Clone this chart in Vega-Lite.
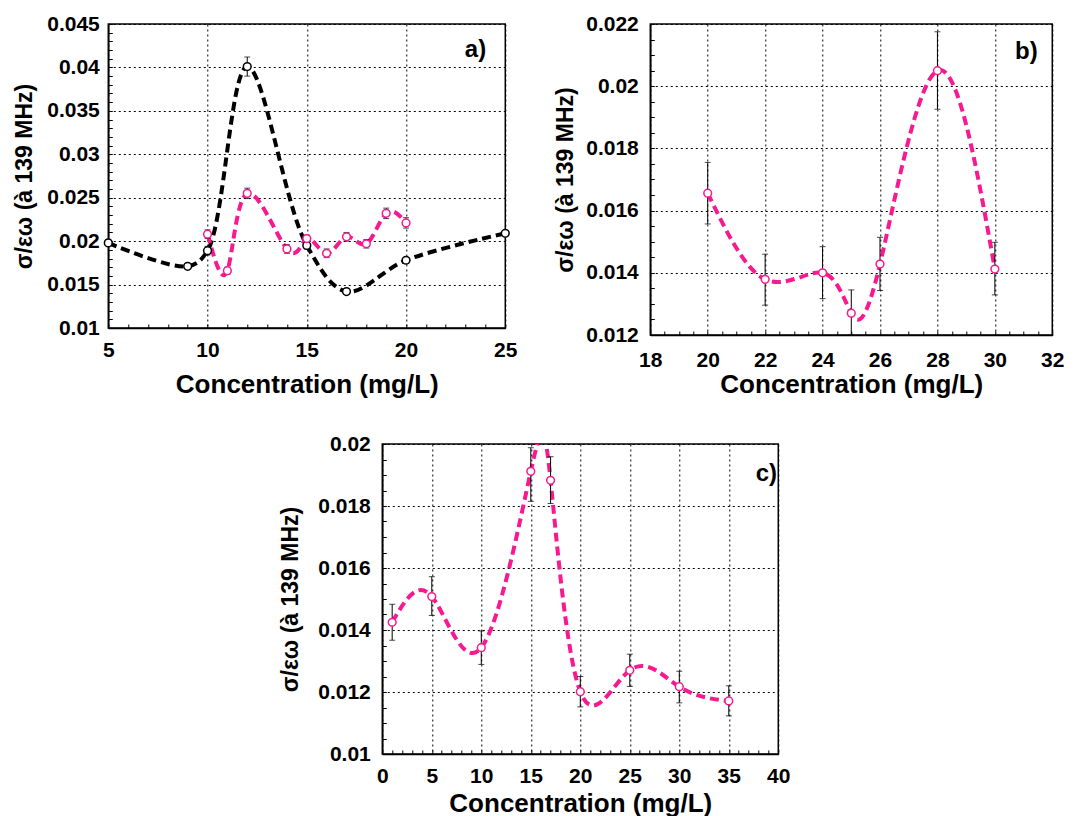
{
  "$schema": "https://vega.github.io/schema/vega-lite/v6.json",
  "padding": {"left": 12, "top": 12, "right": 5, "bottom": 0},
  "datasets": {
    "a": [
      {"s": "k", "conc": 5, "y": 0.0198, "lo": 0.0195, "hi": 0.0201},
      {"s": "k", "conc": 9, "y": 0.0171, "lo": 0.0168, "hi": 0.0174},
      {"s": "k", "conc": 10, "y": 0.0189, "lo": 0.0184, "hi": 0.0194},
      {"s": "k", "conc": 12, "y": 0.0401, "lo": 0.0390, "hi": 0.0412},
      {"s": "k", "conc": 15, "y": 0.0195, "lo": 0.0191, "hi": 0.0199},
      {"s": "k", "conc": 17, "y": 0.0142, "lo": 0.0140, "hi": 0.0144},
      {"s": "k", "conc": 20, "y": 0.0178, "lo": 0.0175, "hi": 0.0181},
      {"s": "k", "conc": 25, "y": 0.0209, "lo": 0.0206, "hi": 0.0212},
      {"s": "p", "conc": 10, "y": 0.0208, "lo": 0.0203, "hi": 0.0213},
      {"s": "p", "conc": 11, "y": 0.0166, "lo": 0.0162, "hi": 0.0170},
      {"s": "p", "conc": 12, "y": 0.0255, "lo": 0.0249, "hi": 0.0261},
      {"s": "p", "conc": 14, "y": 0.0191, "lo": 0.0186, "hi": 0.0196},
      {"s": "p", "conc": 15, "y": 0.0203, "lo": 0.0199, "hi": 0.0207},
      {"s": "p", "conc": 16, "y": 0.0186, "lo": 0.0181, "hi": 0.0191},
      {"s": "p", "conc": 17, "y": 0.0205, "lo": 0.0200, "hi": 0.0210},
      {"s": "p", "conc": 18, "y": 0.0197, "lo": 0.0192, "hi": 0.0202},
      {"s": "p", "conc": 19, "y": 0.0232, "lo": 0.0226, "hi": 0.0238},
      {"s": "p", "conc": 20, "y": 0.0221, "lo": 0.0215, "hi": 0.0227}
    ],
    "b": [
      {"s": "p", "conc": 20, "y": 0.01656, "lo": 0.01557, "hi": 0.01755},
      {"s": "p", "conc": 22, "y": 0.01379, "lo": 0.01296, "hi": 0.01460},
      {"s": "p", "conc": 24, "y": 0.01400, "lo": 0.01317, "hi": 0.01484},
      {"s": "p", "conc": 25, "y": 0.01270, "lo": 0.01200, "hi": 0.01345},
      {"s": "p", "conc": 26, "y": 0.01428, "lo": 0.01343, "hi": 0.01514},
      {"s": "p", "conc": 28, "y": 0.02050, "lo": 0.01926, "hi": 0.02175},
      {"s": "p", "conc": 30, "y": 0.01412, "lo": 0.01329, "hi": 0.01498}
    ],
    "c": [
      {"s": "p", "conc": 1, "y": 0.01425, "lo": 0.01367, "hi": 0.01483},
      {"s": "p", "conc": 5, "y": 0.01508, "lo": 0.01447, "hi": 0.01572},
      {"s": "p", "conc": 10, "y": 0.01343, "lo": 0.01289, "hi": 0.01397},
      {"s": "p", "conc": 15, "y": 0.01912, "lo": 0.01815, "hi": 0.01988},
      {"s": "p", "conc": 17, "y": 0.01883, "lo": 0.01808, "hi": 0.01959},
      {"s": "p", "conc": 20, "y": 0.01201, "lo": 0.01152, "hi": 0.01250},
      {"s": "p", "conc": 25, "y": 0.01270, "lo": 0.01218, "hi": 0.01322},
      {"s": "p", "conc": 30, "y": 0.01217, "lo": 0.01165, "hi": 0.01267},
      {"s": "p", "conc": 35, "y": 0.01171, "lo": 0.01123, "hi": 0.01220}
    ]
  },
  "vconcat": [
    {
      "hconcat": [
        {
          "width": 397,
          "height": 304,
          "layer": [
            {
              "data": {"name": "a"},
              "transform": [{"filter": "datum.s === 'k'"}],
              "mark": {"type": "line", "interpolate": "catmull-rom", "strokeWidth": 4, "strokeDash": [9, 5], "clip": true},
              "encoding": {
                "x": {"field": "conc", "type": "quantitative", "scale": {"domain": [5, 25], "nice": false, "zero": false},
                  "axis": {"values": [5,6,7,8,9,10,11,12,13,14,15,16,17,18,19,20,21,22,23,24,25], "format": "~g", "labelExpr": "datum.value % 5 === 0 ? datum.label : ''", "gridOpacity": {"condition": {"test": "datum.value % 5 === 0", "value": 1}, "value": 0}, "title": "Concentration (mg/L)", "labelPadding": 15, "titlePadding": 11, "labelOverlap": false, "labelFlush": false}},
                "y": {"field": "y", "type": "quantitative", "scale": {"domain": [0.01, 0.045], "nice": false, "zero": false},
                  "axis": {"values": [0.010,0.011,0.012,0.013,0.014,0.015,0.016,0.017,0.018,0.019,0.020,0.021,0.022,0.023,0.024,0.025,0.026,0.027,0.028,0.029,0.030,0.031,0.032,0.033,0.034,0.035,0.036,0.037,0.038,0.039,0.040,0.041,0.042,0.043,0.044,0.045], "format": "~g", "labelExpr": "abs(datum.value*200-round(datum.value*200))<1e-6 ? datum.label : ''", "gridOpacity": {"condition": {"test": "abs(datum.value*200-round(datum.value*200))<1e-6", "value": 1}, "value": 0}, "title": "σ/εω (à 139 MHz)", "labelPadding": 13, "titlePadding": 10, "labelOverlap": false, "labelFlush": false}},
                "color": {"field": "s", "type": "nominal", "scale": {"domain": ["k", "p"], "range": ["#000000", "#f7198f"]}, "legend": null}
              }
            },
            {
              "data": {"name": "a"},
              "transform": [{"filter": "datum.s === 'p'"}],
              "mark": {"type": "line", "interpolate": "natural", "strokeWidth": 4, "strokeDash": [9, 5], "clip": true},
              "encoding": {
                "x": {"field": "conc", "type": "quantitative", "scale": {"domain": [5, 25], "nice": false, "zero": false},
                  "axis": {"values": [5,6,7,8,9,10,11,12,13,14,15,16,17,18,19,20,21,22,23,24,25], "format": "~g", "labelExpr": "datum.value % 5 === 0 ? datum.label : ''", "gridOpacity": {"condition": {"test": "datum.value % 5 === 0", "value": 1}, "value": 0}, "title": "Concentration (mg/L)", "labelPadding": 15, "titlePadding": 11, "labelOverlap": false, "labelFlush": false}},
                "y": {"field": "y", "type": "quantitative", "scale": {"domain": [0.01, 0.045], "nice": false, "zero": false},
                  "axis": {"values": [0.010,0.011,0.012,0.013,0.014,0.015,0.016,0.017,0.018,0.019,0.020,0.021,0.022,0.023,0.024,0.025,0.026,0.027,0.028,0.029,0.030,0.031,0.032,0.033,0.034,0.035,0.036,0.037,0.038,0.039,0.040,0.041,0.042,0.043,0.044,0.045], "format": "~g", "labelExpr": "abs(datum.value*200-round(datum.value*200))<1e-6 ? datum.label : ''", "gridOpacity": {"condition": {"test": "abs(datum.value*200-round(datum.value*200))<1e-6", "value": 1}, "value": 0}, "title": "σ/εω (à 139 MHz)", "labelPadding": 13, "titlePadding": 10, "labelOverlap": false, "labelFlush": false}},
                "color": {"field": "s", "type": "nominal", "scale": {"domain": ["k", "p"], "range": ["#000000", "#f7198f"]}, "legend": null}
              }
            },
            {
              "data": {"name": "a"},
              "mark": {"type": "errorbar", "ticks": {"size": 6}, "color": "black", "thickness": 1},
              "encoding": {
                "x": {"field": "conc", "type": "quantitative", "scale": {"domain": [5, 25], "nice": false, "zero": false},
                  "axis": {"values": [5,6,7,8,9,10,11,12,13,14,15,16,17,18,19,20,21,22,23,24,25], "format": "~g", "labelExpr": "datum.value % 5 === 0 ? datum.label : ''", "gridOpacity": {"condition": {"test": "datum.value % 5 === 0", "value": 1}, "value": 0}, "title": "Concentration (mg/L)", "labelPadding": 15, "titlePadding": 11, "labelOverlap": false, "labelFlush": false}},
                "y": {"field": "lo", "type": "quantitative", "scale": {"domain": [0.01, 0.045], "nice": false, "zero": false},
                  "axis": {"values": [0.010,0.011,0.012,0.013,0.014,0.015,0.016,0.017,0.018,0.019,0.020,0.021,0.022,0.023,0.024,0.025,0.026,0.027,0.028,0.029,0.030,0.031,0.032,0.033,0.034,0.035,0.036,0.037,0.038,0.039,0.040,0.041,0.042,0.043,0.044,0.045], "format": "~g", "labelExpr": "abs(datum.value*200-round(datum.value*200))<1e-6 ? datum.label : ''", "gridOpacity": {"condition": {"test": "abs(datum.value*200-round(datum.value*200))<1e-6", "value": 1}, "value": 0}, "title": "σ/εω (à 139 MHz)", "labelPadding": 13, "titlePadding": 10, "labelOverlap": false, "labelFlush": false}},
                "y2": {"field": "hi"}
              }
            },
            {
              "data": {"name": "a"},
              "mark": {"type": "point", "shape": "circle", "filled": false, "fill": "white", "fillOpacity": 1, "opacity": 1, "size": 60, "strokeWidth": 1.5},
              "encoding": {
                "x": {"field": "conc", "type": "quantitative", "scale": {"domain": [5, 25], "nice": false, "zero": false},
                  "axis": {"values": [5,6,7,8,9,10,11,12,13,14,15,16,17,18,19,20,21,22,23,24,25], "format": "~g", "labelExpr": "datum.value % 5 === 0 ? datum.label : ''", "gridOpacity": {"condition": {"test": "datum.value % 5 === 0", "value": 1}, "value": 0}, "title": "Concentration (mg/L)", "labelPadding": 15, "titlePadding": 11, "labelOverlap": false, "labelFlush": false}},
                "y": {"field": "y", "type": "quantitative", "scale": {"domain": [0.01, 0.045], "nice": false, "zero": false},
                  "axis": {"values": [0.010,0.011,0.012,0.013,0.014,0.015,0.016,0.017,0.018,0.019,0.020,0.021,0.022,0.023,0.024,0.025,0.026,0.027,0.028,0.029,0.030,0.031,0.032,0.033,0.034,0.035,0.036,0.037,0.038,0.039,0.040,0.041,0.042,0.043,0.044,0.045], "format": "~g", "labelExpr": "abs(datum.value*200-round(datum.value*200))<1e-6 ? datum.label : ''", "gridOpacity": {"condition": {"test": "abs(datum.value*200-round(datum.value*200))<1e-6", "value": 1}, "value": 0}, "title": "σ/εω (à 139 MHz)", "labelPadding": 13, "titlePadding": 10, "labelOverlap": false, "labelFlush": false}},
                "stroke": {"field": "s", "type": "nominal", "scale": {"domain": ["k", "p"], "range": ["#000000", "#f7198f"]}, "legend": null}
              }
            },
            {
              "data": {"values": [{"t": "a)"}]},
              "mark": {"type": "text", "fontSize": 24, "fontWeight": "bold", "align": "center", "baseline": "middle"},
              "encoding": {
                "text": {"field": "t"},
                "x": {"datum": 23.5, "type": "quantitative", "scale": {"domain": [5, 25], "nice": false, "zero": false},
                  "axis": {"values": [5,6,7,8,9,10,11,12,13,14,15,16,17,18,19,20,21,22,23,24,25], "format": "~g", "labelExpr": "datum.value % 5 === 0 ? datum.label : ''", "gridOpacity": {"condition": {"test": "datum.value % 5 === 0", "value": 1}, "value": 0}, "title": "Concentration (mg/L)", "labelPadding": 15, "titlePadding": 11, "labelOverlap": false, "labelFlush": false}},
                "y": {"datum": 0.042, "type": "quantitative", "scale": {"domain": [0.01, 0.045], "nice": false, "zero": false},
                  "axis": {"values": [0.010,0.011,0.012,0.013,0.014,0.015,0.016,0.017,0.018,0.019,0.020,0.021,0.022,0.023,0.024,0.025,0.026,0.027,0.028,0.029,0.030,0.031,0.032,0.033,0.034,0.035,0.036,0.037,0.038,0.039,0.040,0.041,0.042,0.043,0.044,0.045], "format": "~g", "labelExpr": "abs(datum.value*200-round(datum.value*200))<1e-6 ? datum.label : ''", "gridOpacity": {"condition": {"test": "abs(datum.value*200-round(datum.value*200))<1e-6", "value": 1}, "value": 0}, "title": "σ/εω (à 139 MHz)", "labelPadding": 13, "titlePadding": 10, "labelOverlap": false, "labelFlush": false}}
              }
            }
          ]
        },
        {
          "width": 402,
          "height": 311,
          "layer": [
            {
              "data": {"name": "b"},
              "mark": {"type": "line", "interpolate": "natural", "strokeWidth": 4, "strokeDash": [9, 5], "clip": true},
              "encoding": {
                "x": {"field": "conc", "type": "quantitative", "scale": {"domain": [18, 32], "nice": false, "zero": false},
                  "axis": {"values": [18,18.5,19,19.5,20,20.5,21,21.5,22,22.5,23,23.5,24,24.5,25,25.5,26,26.5,27,27.5,28,28.5,29,29.5,30,30.5,31,31.5,32], "format": "~g", "labelExpr": "datum.value % 2 === 0 ? datum.label : ''", "gridOpacity": {"condition": {"test": "datum.value % 2 === 0", "value": 1}, "value": 0}, "title": "Concentration (mg/L)", "labelPadding": 18, "titlePadding": 1, "labelOverlap": false, "labelFlush": false}},
                "y": {"field": "y", "type": "quantitative", "scale": {"domain": [0.012, 0.022], "nice": false, "zero": false},
                  "axis": {"values": [0.012,0.0125,0.013,0.0135,0.014,0.0145,0.015,0.0155,0.016,0.0165,0.017,0.0175,0.018,0.0185,0.019,0.0195,0.020,0.0205,0.021,0.0215,0.022], "format": "~g", "labelExpr": "abs(datum.value*500-round(datum.value*500))<1e-6 ? datum.label : ''", "gridOpacity": {"condition": {"test": "abs(datum.value*500-round(datum.value*500))<1e-6", "value": 1}, "value": 0}, "title": "σ/εω (à 139 MHz)", "labelPadding": 16, "titlePadding": 8, "labelOverlap": false, "labelFlush": false}},
                "color": {"field": "s", "type": "nominal", "scale": {"domain": ["k", "p"], "range": ["#000000", "#f7198f"]}, "legend": null}
              }
            },
            {
              "data": {"name": "b"},
              "mark": {"type": "errorbar", "ticks": {"size": 6}, "color": "black", "thickness": 1},
              "encoding": {
                "x": {"field": "conc", "type": "quantitative", "scale": {"domain": [18, 32], "nice": false, "zero": false},
                  "axis": {"values": [18,18.5,19,19.5,20,20.5,21,21.5,22,22.5,23,23.5,24,24.5,25,25.5,26,26.5,27,27.5,28,28.5,29,29.5,30,30.5,31,31.5,32], "format": "~g", "labelExpr": "datum.value % 2 === 0 ? datum.label : ''", "gridOpacity": {"condition": {"test": "datum.value % 2 === 0", "value": 1}, "value": 0}, "title": "Concentration (mg/L)", "labelPadding": 18, "titlePadding": 1, "labelOverlap": false, "labelFlush": false}},
                "y": {"field": "lo", "type": "quantitative", "scale": {"domain": [0.012, 0.022], "nice": false, "zero": false},
                  "axis": {"values": [0.012,0.0125,0.013,0.0135,0.014,0.0145,0.015,0.0155,0.016,0.0165,0.017,0.0175,0.018,0.0185,0.019,0.0195,0.020,0.0205,0.021,0.0215,0.022], "format": "~g", "labelExpr": "abs(datum.value*500-round(datum.value*500))<1e-6 ? datum.label : ''", "gridOpacity": {"condition": {"test": "abs(datum.value*500-round(datum.value*500))<1e-6", "value": 1}, "value": 0}, "title": "σ/εω (à 139 MHz)", "labelPadding": 16, "titlePadding": 8, "labelOverlap": false, "labelFlush": false}},
                "y2": {"field": "hi"}
              }
            },
            {
              "data": {"name": "b"},
              "mark": {"type": "point", "shape": "circle", "filled": false, "fill": "white", "fillOpacity": 1, "opacity": 1, "size": 60, "strokeWidth": 1.5},
              "encoding": {
                "x": {"field": "conc", "type": "quantitative", "scale": {"domain": [18, 32], "nice": false, "zero": false},
                  "axis": {"values": [18,18.5,19,19.5,20,20.5,21,21.5,22,22.5,23,23.5,24,24.5,25,25.5,26,26.5,27,27.5,28,28.5,29,29.5,30,30.5,31,31.5,32], "format": "~g", "labelExpr": "datum.value % 2 === 0 ? datum.label : ''", "gridOpacity": {"condition": {"test": "datum.value % 2 === 0", "value": 1}, "value": 0}, "title": "Concentration (mg/L)", "labelPadding": 18, "titlePadding": 1, "labelOverlap": false, "labelFlush": false}},
                "y": {"field": "y", "type": "quantitative", "scale": {"domain": [0.012, 0.022], "nice": false, "zero": false},
                  "axis": {"values": [0.012,0.0125,0.013,0.0135,0.014,0.0145,0.015,0.0155,0.016,0.0165,0.017,0.0175,0.018,0.0185,0.019,0.0195,0.020,0.0205,0.021,0.0215,0.022], "format": "~g", "labelExpr": "abs(datum.value*500-round(datum.value*500))<1e-6 ? datum.label : ''", "gridOpacity": {"condition": {"test": "abs(datum.value*500-round(datum.value*500))<1e-6", "value": 1}, "value": 0}, "title": "σ/εω (à 139 MHz)", "labelPadding": 16, "titlePadding": 8, "labelOverlap": false, "labelFlush": false}},
                "stroke": {"field": "s", "type": "nominal", "scale": {"domain": ["k", "p"], "range": ["#000000", "#f7198f"]}, "legend": null}
              }
            },
            {
              "data": {"values": [{"t": "b)"}]},
              "mark": {"type": "text", "fontSize": 24, "fontWeight": "bold", "align": "center", "baseline": "middle"},
              "encoding": {
                "text": {"field": "t"},
                "x": {"datum": 31.1, "type": "quantitative", "scale": {"domain": [18, 32], "nice": false, "zero": false},
                  "axis": {"values": [18,18.5,19,19.5,20,20.5,21,21.5,22,22.5,23,23.5,24,24.5,25,25.5,26,26.5,27,27.5,28,28.5,29,29.5,30,30.5,31,31.5,32], "format": "~g", "labelExpr": "datum.value % 2 === 0 ? datum.label : ''", "gridOpacity": {"condition": {"test": "datum.value % 2 === 0", "value": 1}, "value": 0}, "title": "Concentration (mg/L)", "labelPadding": 18, "titlePadding": 1, "labelOverlap": false, "labelFlush": false}},
                "y": {"datum": 0.0211, "type": "quantitative", "scale": {"domain": [0.012, 0.022], "nice": false, "zero": false},
                  "axis": {"values": [0.012,0.0125,0.013,0.0135,0.014,0.0145,0.015,0.0155,0.016,0.0165,0.017,0.0175,0.018,0.0185,0.019,0.0195,0.020,0.0205,0.021,0.0215,0.022], "format": "~g", "labelExpr": "abs(datum.value*500-round(datum.value*500))<1e-6 ? datum.label : ''", "gridOpacity": {"condition": {"test": "abs(datum.value*500-round(datum.value*500))<1e-6", "value": 1}, "value": 0}, "title": "σ/εω (à 139 MHz)", "labelPadding": 16, "titlePadding": 8, "labelOverlap": false, "labelFlush": false}}
              }
            }
          ]
        }
      ],
      "spacing": 35
    },
    {
      "width": 396,
      "height": 310,
      "layer": [
        {
          "data": {"name": "c"},
          "mark": {"type": "line", "interpolate": "natural", "strokeWidth": 4, "strokeDash": [9, 5], "clip": true},
          "encoding": {
            "x": {"field": "conc", "type": "quantitative", "scale": {"domain": [0, 40], "nice": false, "zero": false},
              "axis": {"values": [0,1,2,3,4,5,6,7,8,9,10,11,12,13,14,15,16,17,18,19,20,21,22,23,24,25,26,27,28,29,30,31,32,33,34,35,36,37,38,39,40], "format": "~g", "labelExpr": "datum.value % 5 === 0 ? datum.label : ''", "gridOpacity": {"condition": {"test": "datum.value % 5 === 0", "value": 1}, "value": 0}, "title": "Concentration (mg/L)", "labelPadding": 15, "titlePadding": 4, "labelOverlap": false, "labelFlush": false}},
            "y": {"field": "y", "type": "quantitative", "scale": {"domain": [0.01, 0.02], "nice": false, "zero": false},
              "axis": {"values": [0.010,0.0105,0.011,0.0115,0.012,0.0125,0.013,0.0135,0.014,0.0145,0.015,0.0155,0.016,0.0165,0.017,0.0175,0.018,0.0185,0.019,0.0195,0.020], "format": "~g", "labelExpr": "abs(datum.value*500-round(datum.value*500))<1e-6 ? datum.label : ''", "gridOpacity": {"condition": {"test": "abs(datum.value*500-round(datum.value*500))<1e-6", "value": 1}, "value": 0}, "title": "σ/εω (à 139 MHz)", "labelPadding": 16, "titlePadding": 15, "labelOverlap": false, "labelFlush": false}},
            "color": {"field": "s", "type": "nominal", "scale": {"domain": ["k", "p"], "range": ["#000000", "#f7198f"]}, "legend": null}
          }
        },
        {
          "data": {"name": "c"},
          "mark": {"type": "errorbar", "ticks": {"size": 6}, "color": "black", "thickness": 1},
          "encoding": {
            "x": {"field": "conc", "type": "quantitative", "scale": {"domain": [0, 40], "nice": false, "zero": false},
              "axis": {"values": [0,1,2,3,4,5,6,7,8,9,10,11,12,13,14,15,16,17,18,19,20,21,22,23,24,25,26,27,28,29,30,31,32,33,34,35,36,37,38,39,40], "format": "~g", "labelExpr": "datum.value % 5 === 0 ? datum.label : ''", "gridOpacity": {"condition": {"test": "datum.value % 5 === 0", "value": 1}, "value": 0}, "title": "Concentration (mg/L)", "labelPadding": 15, "titlePadding": 4, "labelOverlap": false, "labelFlush": false}},
            "y": {"field": "lo", "type": "quantitative", "scale": {"domain": [0.01, 0.02], "nice": false, "zero": false},
              "axis": {"values": [0.010,0.0105,0.011,0.0115,0.012,0.0125,0.013,0.0135,0.014,0.0145,0.015,0.0155,0.016,0.0165,0.017,0.0175,0.018,0.0185,0.019,0.0195,0.020], "format": "~g", "labelExpr": "abs(datum.value*500-round(datum.value*500))<1e-6 ? datum.label : ''", "gridOpacity": {"condition": {"test": "abs(datum.value*500-round(datum.value*500))<1e-6", "value": 1}, "value": 0}, "title": "σ/εω (à 139 MHz)", "labelPadding": 16, "titlePadding": 15, "labelOverlap": false, "labelFlush": false}},
            "y2": {"field": "hi"}
          }
        },
        {
          "data": {"name": "c"},
          "mark": {"type": "point", "shape": "circle", "filled": false, "fill": "white", "fillOpacity": 1, "opacity": 1, "size": 60, "strokeWidth": 1.5},
          "encoding": {
            "x": {"field": "conc", "type": "quantitative", "scale": {"domain": [0, 40], "nice": false, "zero": false},
              "axis": {"values": [0,1,2,3,4,5,6,7,8,9,10,11,12,13,14,15,16,17,18,19,20,21,22,23,24,25,26,27,28,29,30,31,32,33,34,35,36,37,38,39,40], "format": "~g", "labelExpr": "datum.value % 5 === 0 ? datum.label : ''", "gridOpacity": {"condition": {"test": "datum.value % 5 === 0", "value": 1}, "value": 0}, "title": "Concentration (mg/L)", "labelPadding": 15, "titlePadding": 4, "labelOverlap": false, "labelFlush": false}},
            "y": {"field": "y", "type": "quantitative", "scale": {"domain": [0.01, 0.02], "nice": false, "zero": false},
              "axis": {"values": [0.010,0.0105,0.011,0.0115,0.012,0.0125,0.013,0.0135,0.014,0.0145,0.015,0.0155,0.016,0.0165,0.017,0.0175,0.018,0.0185,0.019,0.0195,0.020], "format": "~g", "labelExpr": "abs(datum.value*500-round(datum.value*500))<1e-6 ? datum.label : ''", "gridOpacity": {"condition": {"test": "abs(datum.value*500-round(datum.value*500))<1e-6", "value": 1}, "value": 0}, "title": "σ/εω (à 139 MHz)", "labelPadding": 16, "titlePadding": 15, "labelOverlap": false, "labelFlush": false}},
            "stroke": {"field": "s", "type": "nominal", "scale": {"domain": ["k", "p"], "range": ["#000000", "#f7198f"]}, "legend": null}
          }
        },
        {
          "data": {"values": [{"t": "c)"}]},
          "mark": {"type": "text", "fontSize": 24, "fontWeight": "bold", "align": "center", "baseline": "middle"},
          "encoding": {
            "text": {"field": "t"},
            "x": {"datum": 38.8, "type": "quantitative", "scale": {"domain": [0, 40], "nice": false, "zero": false},
              "axis": {"values": [0,1,2,3,4,5,6,7,8,9,10,11,12,13,14,15,16,17,18,19,20,21,22,23,24,25,26,27,28,29,30,31,32,33,34,35,36,37,38,39,40], "format": "~g", "labelExpr": "datum.value % 5 === 0 ? datum.label : ''", "gridOpacity": {"condition": {"test": "datum.value % 5 === 0", "value": 1}, "value": 0}, "title": "Concentration (mg/L)", "labelPadding": 15, "titlePadding": 4, "labelOverlap": false, "labelFlush": false}},
            "y": {"datum": 0.01903, "type": "quantitative", "scale": {"domain": [0.01, 0.02], "nice": false, "zero": false},
              "axis": {"values": [0.010,0.0105,0.011,0.0115,0.012,0.0125,0.013,0.0135,0.014,0.0145,0.015,0.0155,0.016,0.0165,0.017,0.0175,0.018,0.0185,0.019,0.0195,0.020], "format": "~g", "labelExpr": "abs(datum.value*500-round(datum.value*500))<1e-6 ? datum.label : ''", "gridOpacity": {"condition": {"test": "abs(datum.value*500-round(datum.value*500))<1e-6", "value": 1}, "value": 0}, "title": "σ/εω (à 139 MHz)", "labelPadding": 16, "titlePadding": 15, "labelOverlap": false, "labelFlush": false}}
          }
        }
      ]
    }
  ],
  "spacing": 34,
  "center": true,
  "config": {
    "font": "Liberation Sans",
    "view": {"stroke": "black", "strokeWidth": 1.5},
    "axis": {
      "labelFont": "Liberation Sans", "labelFontWeight": "bold", "labelFontSize": 21, "labelColor": "black",
      "titleFont": "Liberation Sans", "titleFontWeight": "bold", "titleColor": "black",
      "domainColor": "black", "domainWidth": 1.5, "tickColor": "black", "tickWidth": 1, "tickSize": -4,
      "grid": true, "gridColor": "black", "gridDash": [2, 3], "gridWidth": 1,
      "labelOverlap": false, "labelFlush": false, "labelBound": false
    },
    "axisX": {"titleFontSize": 26},
    "axisY": {"titleFontSize": 23}
  }
}
